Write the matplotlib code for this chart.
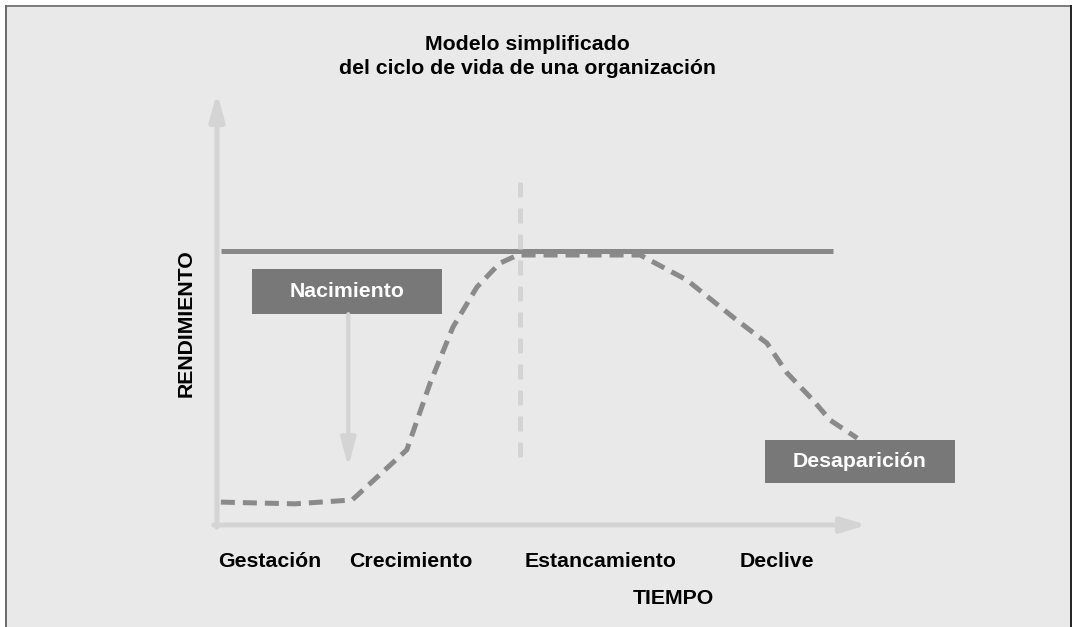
import numpy as np
import matplotlib
matplotlib.use("Agg")
import matplotlib.pyplot as plt
from matplotlib.patches import Rectangle

# organisation life cycle (time 0..10, performance 0..10)
curve_t = [0.06, 1.2, 2.08, 2.92, 3.28, 3.63, 4.0, 4.35, 4.63, 6.51, 7.23, 7.94, 8.46, 8.77, 9.17, 9.43, 9.85]
curve_r = [0.53, 0.49, 0.58, 1.74, 3.29, 4.58, 5.51, 6.06, 6.25, 6.25, 5.67, 4.81, 4.21, 3.52, 2.89, 2.43, 2.01]
max_level = 6.34
max_span = (0.06, 9.48)
peak_t = 4.66
peak_span = (1.57, 7.94)
stages = ["Gestación", "Crecimiento", "Estancamiento", "Declive"]
stage_t = [0.815, 2.985, 5.908, 8.615]
title = "Modelo simplificado\ndel ciclo de vida de una organización"

plt.rcParams['font.family'] = ['Liberation Sans', 'DejaVu Sans']
bg = '#e9e9e9'
light = '#d4d4d4'
dark = '#8a8a8a'
boxc = '#787878'

fig = plt.figure(figsize=(10.76, 6.27), dpi=100)
fig.patch.set_facecolor('white')

ax = fig.add_axes([0, 0, 1, 1])
ax.set_xlim(-3.338, 13.215)
ax.set_ylim(-2.361, 12.153)
ax.axis('off')
ax.patch.set_visible(False)

# panel with border (figure fraction)
tf = fig.transFigure
ax.add_patch(Rectangle((5.5 / 1076, 0), 1066 / 1076, 621.5 / 627, transform=tf,
                       facecolor=bg, edgecolor='none', zorder=0))
ax.plot([5.5 / 1076, 1071 / 1076], [621.5 / 627] * 2, transform=tf, color='#7a7a7a', lw=1.4, zorder=1)
ax.plot([5.5 / 1076] * 2, [0, 621.5 / 627], transform=tf, color='#6a6a6a', lw=1.4, zorder=1)
ax.plot([1071 / 1076] * 2, [0, 621.5 / 627], transform=tf, color='#222222', lw=1.4, zorder=1)

# axes arrows
ax.annotate('', xy=(0, 10.0), xytext=(0, -0.05),
            arrowprops=dict(arrowstyle='-|>,head_width=0.45,head_length=1.6', lw=3.6,
                            color=light, mutation_scale=10, shrinkA=0, shrinkB=0), zorder=2)
ax.annotate('', xy=(10.0, 0.0), xytext=(-0.05, 0.0),
            arrowprops=dict(arrowstyle='-|>,head_width=0.45,head_length=1.5', lw=3.6,
                            color=light, mutation_scale=10, shrinkA=0, shrinkB=0), zorder=2)

# max performance line and peak marker
ax.plot(max_span, [max_level, max_level], color='#888888', lw=3.6, solid_capstyle='butt', zorder=3)
ax.plot([peak_t, peak_t], peak_span, color=light, lw=3.6, dashes=(3.0, 2.2), zorder=4)

# life-cycle curve
ax.plot(curve_t, curve_r, color=dark, lw=3.6, dashes=(2.8, 1.6), zorder=5)

# Nacimiento box + arrow
ax.add_patch(Rectangle((0.54, 4.88), 2.92, 1.05, facecolor=boxc, edgecolor='none', zorder=6))
ax.text(2.0, 5.40, "Nacimiento", ha='center', va='center', color='white',
        fontsize=15.3, fontweight='bold', zorder=7)
ax.annotate('', xy=(2.02, 1.34), xytext=(2.02, 4.88),
            arrowprops=dict(arrowstyle='-|>,head_width=0.45,head_length=1.7', lw=3.0,
                            color=light, mutation_scale=10, shrinkA=0, shrinkB=0), zorder=6)

# Desaparicion box
ax.add_patch(Rectangle((8.43, 0.97), 2.92, 1.0, facecolor=boxc, edgecolor='none', zorder=6))
ax.text(9.89, 1.47, "Desaparición", ha='center', va='center', color='white',
        fontsize=15.3, fontweight='bold', zorder=7)

# labels
for name, t in zip(stages, stage_t):
    ax.text(t, -0.856, name, ha='center', va='center', fontsize=15.3, fontweight='bold')
ax.text(7.02, -1.69, "TIEMPO", ha='center', va='center', fontsize=15.3, fontweight='bold')
ax.text(-0.48, 4.68, "RENDIMIENTO", ha='center', va='center', rotation=90,
        fontsize=15.3, fontweight='bold')
ax.text(4.77, 10.84, title, ha='center', va='center', fontsize=15.3, fontweight='bold',
        linespacing=1.35)

fig.savefig('out.png', dpi=100)
